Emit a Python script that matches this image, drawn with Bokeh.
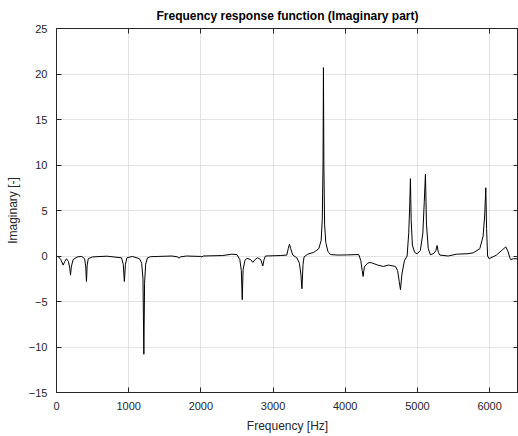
from bokeh.plotting import figure
from bokeh.models import Range1d, LinearAxis, SingleIntervalTicker, ColumnDataSource
from bokeh.embed import file_html
from bokeh.resources import INLINE

# Frequency [Hz] and imaginary part of the FRF
freq = [0, 30, 60, 92, 115, 138, 165, 185, 194, 205, 230, 286, 350, 390, 405, 415, 425, 440,
        500, 700, 900, 925, 940, 955, 975, 1050, 1150, 1180, 1198, 1210, 1220, 1235, 1260, 1300,
        1400, 1600, 1680, 1697, 1715, 1800, 2000, 2015, 2030, 2300, 2430, 2500, 2540, 2560,
        2573, 2585, 2610, 2637, 2690, 2720, 2750, 2785, 2830, 2858, 2875, 2895, 3100, 3190,
        3210, 3227, 3245, 3273, 3330, 3365, 3385, 3400, 3415, 3430, 3480, 3564, 3633, 3666,
        3682, 3692, 3698, 3704, 3714, 3730, 3760, 3795, 3900, 4020, 4187, 4215, 4235, 4247,
        4265, 4303, 4330, 4366, 4450, 4527, 4600, 4695, 4725, 4748, 4765, 4785, 4820, 4857,
        4880, 4893, 4903, 4913, 4930, 4960, 4996, 5040, 5075, 5095, 5111, 5125, 5150, 5180,
        5230, 5255, 5272, 5290, 5311, 5426, 5542, 5700, 5772, 5864, 5910, 5932, 5947, 5958,
        5972, 5993, 6095, 6180, 6224, 6255, 6280, 6293, 6330, 6400]
imag = [0.0, -0.1, -0.4, -1.0, -0.6, -0.3, -0.6, -1.4, -2.1, -1.2, -0.4, -0.1, -0.05, -0.3,
        -1.2, -2.8, -1.0, -0.3, -0.1, -0.02, -0.2, -0.9, -2.8, -0.9, -0.2, -0.05, -0.3, -0.8,
        -2.5, -10.8, -3.0, -0.9, -0.2, -0.08, -0.05, 0.0, -0.1, -0.25, -0.1, 0.0, -0.05, -0.12,
        0.0, 0.05, 0.2, 0.15, -0.4, -1.6, -4.8, -1.5, -0.5, -0.25, -0.4, -0.7, -0.4, -0.2, -0.4,
        -1.1, -0.4, 0.0, 0.05, 0.1, 0.8, 1.3, 0.8, 0.1, -0.2, -0.8, -2.0, -3.6, -0.9, -0.1, 0.2,
        0.4, 0.8, 1.7, 4.0, 10.0, 20.7, 10.0, 3.5, 1.5, 0.5, 0.16, 0.1, 0.12, 0.16, -0.5, -1.6,
        -2.25, -1.2, -0.86, -0.72, -0.75, -1.0, -1.15, -1.0, -1.15, -1.6, -2.8, -3.7, -2.0,
        -0.5, 0.0, 2.6, 5.5, 8.5, 4.0, 1.2, 0.4, 0.24, 0.6, 2.5, 6.0, 9.0, 3.5, 0.8, 0.13, 0.3,
        0.6, 1.15, 0.4, 0.1, 0.0, 0.2, 0.25, 0.35, 0.8, 2.2, 4.5, 7.5, 3.0, 0.0, -0.3, 0.1, 0.7,
        1.0, 0.5, -0.2, -0.4, -0.3, -0.3]

x_ticks_interval = 1000
y_ticks_interval = 5

TXT = "#262626"
FONT = "Liberation Sans"

src = ColumnDataSource(dict(f=freq, v=imag))

p = figure(width=518, height=436, output_backend="svg", toolbar_location=None,
           x_range=Range1d(0, 6400), y_range=Range1d(-15, 25),
           min_border_left=56, min_border_right=0, min_border_top=28, min_border_bottom=44,
           title="Frequency response function (Imaginary part)")

p.line("f", "v", source=src, line_color="black", line_width=1)

p.title.align = "center"
p.title.text_font = FONT
p.title.text_font_size = "12px"
p.title.text_font_style = "bold"
p.title.text_color = "black"
p.title.standoff = 11

p.outline_line_color = TXT
p.outline_line_width = 1
p.background_fill_color = "white"
p.border_fill_color = "white"

xt = SingleIntervalTicker(interval=x_ticks_interval)
yt = SingleIntervalTicker(interval=y_ticks_interval)

for ax in (p.xaxis[0], p.yaxis[0]):
    ax.major_tick_in = 5
    ax.major_tick_out = 0
    ax.minor_tick_in = 0
    ax.minor_tick_out = 0
    ax.axis_line_color = TXT
    ax.major_tick_line_color = TXT
    ax.major_label_text_color = TXT
    ax.major_label_text_font = FONT
    ax.major_label_text_font_size = "11px"
    ax.axis_label_text_font = FONT
    ax.axis_label_text_font_size = "12px"
    ax.axis_label_text_font_style = "normal"
    ax.axis_label_text_color = TXT

p.xaxis[0].ticker = xt
p.yaxis[0].ticker = yt
p.xaxis[0].axis_label = "Frequency [Hz]"
p.yaxis[0].axis_label = "Imaginary [-]"
p.xaxis[0].major_label_standoff = 9
p.xaxis[0].axis_label_standoff = 6
p.yaxis[0].major_label_standoff = 9
p.yaxis[0].axis_label_standoff = 6

top = LinearAxis(ticker=SingleIntervalTicker(interval=x_ticks_interval),
                 major_tick_in=5, major_tick_out=0, minor_tick_in=0, minor_tick_out=0,
                 major_label_text_font_size="0px", major_label_text_color=None,
                 major_label_standoff=0,
                 axis_line_color=TXT, major_tick_line_color=TXT)
right = LinearAxis(ticker=SingleIntervalTicker(interval=y_ticks_interval),
                   major_tick_in=5, major_tick_out=0, minor_tick_in=0, minor_tick_out=0,
                   major_label_text_font_size="0px", major_label_text_color=None,
                   major_label_standoff=0,
                   axis_line_color=TXT, major_tick_line_color=TXT)
p.add_layout(top, "above")
p.add_layout(right, "right")

p.xgrid.ticker = xt
p.ygrid.ticker = yt
p.xgrid.grid_line_color = "#e2e2e2"
p.ygrid.grid_line_color = "#e2e2e2"

open("out.html", "w").write(file_html(p, INLINE))
